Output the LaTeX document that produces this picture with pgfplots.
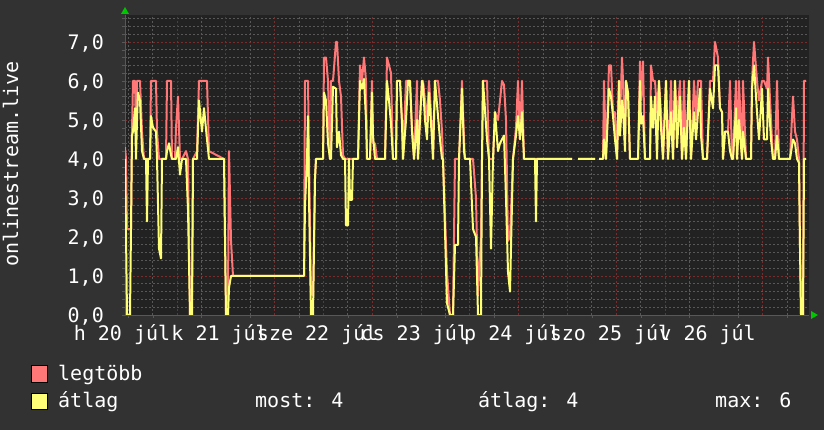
\documentclass[border=0pt]{standalone}
\usepackage{fontspec}
\setmainfont{DejaVu Sans Mono}
\usepackage{pgfplots}
\usepackage{pgfplotstable}
\pgfplotsset{compat=1.18}
\definecolor{canvas}{RGB}{50,50,50}
\definecolor{plotbg}{RGB}{34,34,34}
\definecolor{maxc}{RGB}{255,119,119}
\definecolor{avgc}{RGB}{255,255,119}
\definecolor{mgrid}{RGB}{120,44,44}
\definecolor{ngrid}{RGB}{88,88,88}
\definecolor{arrowg}{RGB}{0,200,0}

\pgfplotstableread{
x max avg
0 4.3 4.0
1 4.0 2.1
2 2.2 0
5 2.2 0
6 2.2 2.2
7 4.7 4.6
8 6.0 4.7
10 6.0 5.3
11 4.7 4.0
12 6.0 5.0
13 6.0 5.7
15 6.0 5.5
17 4.7 4.2
19 4.0 4.0
21 4.0 4.0
22 4.0 2.4
23 4.0 4.0
25 4.0 4.0
26 6.0 5.1
28 6.0 4.8
31 6.0 4.7
32 4.7 4.0
34 4.0 1.7
36 4.0 1.45
37 4.0 4.0
41 4.0 4.0
42 6.0 4.2
44 6.0 4.4
46 6.0 4.1
47 4.0 4.0
50 4.0 4.0
51 4.8 4.0
53 5.6 4.3
55 4.0 3.6
57 4.0 4.0
61 4.2 4.0
63 4.0 2.7
65 0 0
67 0.5 0
68 4.0 4.0
72 4.2 4.0
74 6.0 5.5
77 6.0 4.7
79 6.0 5.3
82 6.0 4.5
84 4.2 4.0
99 4.0 4.0
101 0.1 0
103 0.5 0
104 4.2 0.7
106 1.9 1.0
108 1.0 1.0
179 1.0 1.0
180 6.0 2.8
182 6.0 4.0
183 6.0 5.1
184 4.0 3.0
186 0.55 0
188 0.5 0
190 3.5 3.5
191 4.0 4.0
198 4.0 4.0
199 6.6 5.7
201 6.6 5.5
203 6.0 4.4
205 4.0 4.0
206 6.0 4.0
208 6.0 5.85
211 7.0 5.8
212 7.0 4.3
214 6.0 4.7
216 5.6 4.1
218 4.1 4.0
220 4.0 4.0
221 4.0 2.3
223 4.0 2.3
224 4.0 4.0
225 4.0 2.95
227 4.0 2.95
228 4.0 4.0
233 4.0 4.0
235 6.4 6.0
237 6.0 5.8
239 6.6 6.05
241 6.0 5.0
242 4.0 4.0
245 4.0 4.0
247 6.0 5.7
248 4.4 4.6
250 4.4 4.0
252 4.0 4.0
260 4.0 4.0
262 6.6 6.0
264 6.4 5.5
266 6.2 4.9
268 4.0 4.0
271 4.0 4.0
272 6.0 6.0
275 6.0 6.0
277 5.0 4.9
278 4.0 4.0
281 6.0 5.0
283 6.0 6.0
285 6.0 6.0
287 4.8 4.7
289 4.0 4.0
292 6.0 5.0
293 4.0 4.0
297 6.0 6.0
298 6.0 5.9
300 5.5 5.0
302 5.0 4.5
304 6.0 5.7
307 4.8 4.5
308 4.0 4.0
310 6.0 6.0
313 6.0 5.1
315 5.5 4.5
317 4.7 4.0
318 4.0 4.0
322 1.1 0.3
325 0 0
328 0 0
330 4.0 1.8
333 4.0 1.8
334 4.0 4.0
337 6.0 5.8
339 4.5 4.2
340 4.0 4.0
345 4.0 4.0
348 4.0 2.2
351 3.0 2.0
353 0.5 0
356 2.0 0
357 4.0 4.0
358 6.0 6.0
362 6.0 4.5
364 4.0 4.0
366 4.0 1.7
368 4.0 4.0
370 5.2 5.2
373 5.0 4.2
375 5.5 4.4
377 6.0 4.5
379 5.9 4.6
381 5.0 3.0
383 1.9 1.1
385 2.0 0.6
388 4.0 4.0
391 4.8 4.6
393 6.0 5.1
395 4.6 4.5
397 6.0 5.2
399 4.0 4.0
410 4.0 4.0
411 4.0 2.4
412 4.0 4.0
447 4.0 4.0
448 nan nan
453 4.0 4.0
470 4.0 4.0
471 nan nan
474 4.0 4.0
478 4.0 4.0
479 6.0 4.5
481 4.0 4.0
484 6.4 5.8
486 6.4 5.6
488 5.2 5.1
490 5.2 4.5
492 4.0 4.0
494 6.0 6.0
495 5.0 4.6
497 6.6 5.5
498 6.0 5.3
500 4.5 4.2
501 6.0 6.0
503 5.7 5.7
505 4.0 4.0
513 4.0 4.0
515 6.5 6.0
516 5.5 4.9
518 6.5 5.1
520 4.0 4.0
525 4.0 4.0
526 6.4 5.6
528 6.0 4.8
530 6.0 5.6
532 5.2 4.0
534 6.0 6.0
536 5.2 4.8
538 4.0 4.0
541 6.0 6.0
543 4.0 4.0
546 6.0 5.2
548 4.0 4.0
550 6.0 6.0
552 5.0 4.3
555 6.0 5.6
557 4.0 4.0
559 6.0 4.8
561 4.0 4.0
564 6.0 6.0
566 4.0 4.0
569 6.0 5.2
571 5.0 4.5
573 6.0 5.2
575 6.0 5.8
576 6.0 4.6
578 4.0 4.0
582 4.0 4.0
585 6.0 5.8
588 6.0 5.3
590 7.0 6.4
593 6.6 6.4
595 5.3 5.3
597 5.2 5.2
598 4.0 4.0
600 4.7 4.7
603 4.7 4.7
605 6.0 4.2
607 4.0 4.0
608 4.0 4.0
611 6.0 5.3
612 4.0 4.0
614 6.0 5.0
617 4.0 4.0
618 6.0 4.7
621 4.0 4.0
626 4.0 4.0
627 6.0 5.8
629 7.0 6.4
632 6.0 5.2
634 5.5 4.5
637 6.0 5.8
639 6.0 4.5
642 5.8 4.5
643 6.6 5.8
646 5.0 4.5
648 4.0 4.0
650 4.0 4.0
652 6.0 4.6
654 4.0 4.0
665 4.0 4.0
668 5.6 4.5
670 4.7 4.4
672 4.5 4.0
674 4.0 3.9
675 1.8 1.7
676 0 0
678 0 0
679 6.0 4.0
681 6.0 4.0
}\datatable

\begin{document}
\fontsize{20}{24}\selectfont
\begin{tikzpicture}[x=1pt,y=1pt]
\useasboundingbox (0,0) rectangle (824,430);
\fill[canvas] (0,0) rectangle (824,430);
\begin{axis}[
  at={(125pt,115pt)}, anchor=south west, scale only axis,
  width=684pt, height=300pt,
  xmin=0, xmax=684, ymin=0, ymax=7.69,
  axis background/.style={fill=plotbg},
  axis x line*=bottom, axis y line*=left,
  axis line style={draw=ngrid, line width=0.8pt},
  unbounded coords=jump,
  xtick={0,97.6,195.2,292.8,390.4,488,585.6},
  xticklabels={h 20 júl,k 21 júl,sze 22 júl,cs 23 júl,p 24 júl,szo 25 júl,v 26 júl},
  xticklabel style={anchor=base, inner sep=0pt, yshift=-23pt, xshift=-3pt, text=white},
  xmajorgrids=false,
  major x tick style={draw=none},
  extra x ticks={52,100.8,149.6,198.4,247.2,296,344.8,393.6,442.4,491.2,540,588.8,637.6},
  extra x tick labels={},
  extra x tick style={grid=major, major grid style={mgrid, line width=0.7pt, dash pattern=on 2pt off 2pt}, major tick style={draw=mgrid, line width=0.8pt}, major tick length=4pt, tick align=outside},
  minor xtick={3.2,27.6,76.4,125.2,174,222.8,271.6,320.4,369.2,418,466.8,515.6,564.4,613.2,662},
  xminorgrids=true,
  minor x tick style={draw=ngrid},
  minor tick length=3pt,
  ytick={0,1,2,3,4,5,6,7},
  yticklabels={{0,0},{1,0},{2,0},{3,0},{4,0},{5,0},{6,0},{7,0}},
  yticklabel style={anchor=base east, inner sep=0pt, xshift=-18pt, yshift=-7.5pt, text=white},
  ymajorgrids=true,
  major grid style={mgrid, line width=0.7pt, dash pattern=on 2pt off 2pt},
  major y tick style={draw=ngrid},
  major tick length=3pt,
  tick align=outside,
  minor ytick={0.2,0.4,0.6,0.8,1.2,1.4,1.6,1.8,2.2,2.4,2.6,2.8,3.2,3.4,3.6,3.8,4.2,4.4,4.6,4.8,5.2,5.4,5.6,5.8,6.2,6.4,6.6,6.8,7.2,7.4,7.6},
  yminorgrids=true,
  minor grid style={ngrid, line width=0.7pt, dash pattern=on 1.5pt off 2.5pt},
  minor y tick style={draw=ngrid},
  clip=true,
]
\addplot[maxc, line width=2pt, line join=round, no marks] table[x=x, y=max] {\datatable};
\addplot[avgc, line width=2pt, line join=round, no marks] table[x=x, y=avg] {\datatable};
\end{axis}
\fill[arrowg] (121,416) -- (129,416) -- (125,423) -- cycle;
\fill[arrowg] (811,111) -- (811,119) -- (818,115) -- cycle;
\node[rotate=90, anchor=base, text=white, inner sep=0pt] at (18,266) {onlinestream.live};
\filldraw[fill=maxc, draw=black, line width=0.8pt] (31.5,48) rectangle (47,65);
\node[anchor=base west, text=white, inner sep=0pt] at (58,49) {legtöbb};
\filldraw[fill=avgc, draw=black, line width=0.8pt] (31.5,21) rectangle (47,37);
\node[anchor=base west, text=white, inner sep=0pt] at (58,22) {átlag};
\node[anchor=base west, text=white, inner sep=0pt] at (255,22) {most: 4};
\node[anchor=base west, text=white, inner sep=0pt] at (478,22) {átlag: 4};
\node[anchor=base west, text=white, inner sep=0pt] at (715,22) {max: 6};
\end{tikzpicture}
\end{document}
